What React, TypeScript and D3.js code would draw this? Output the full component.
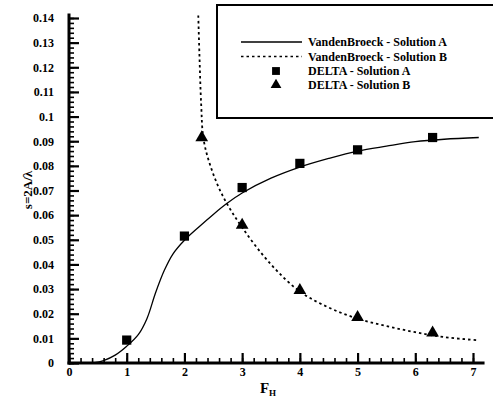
import React, { useEffect, useRef } from "react";
import * as d3 from "d3";

// VandenBroeck curves
const solA: [number, number][] = [
  [0.42, 0], [0.6, 0.001], [0.8, 0.0032], [1, 0.0068], [1.2, 0.0115], [1.35, 0.018],
  [1.5, 0.0285], [1.65, 0.0375], [1.8, 0.0442], [2, 0.0498], [2.25, 0.0552], [2.5, 0.0603],
  [2.75, 0.065], [3, 0.069], [3.5, 0.075], [4, 0.0795], [4.5, 0.083], [5, 0.086],
  [5.5, 0.088], [6, 0.0898], [6.5, 0.0908], [7.1, 0.0915],
];
const solB: [number, number][] = [
  [2.24, 0.141], [2.26, 0.125], [2.29, 0.105], [2.33, 0.091], [2.45, 0.08], [2.66, 0.068],
  [3, 0.055], [3.5, 0.04], [4, 0.029], [4.5, 0.0225], [5, 0.018], [5.5, 0.015],
  [6, 0.0125], [6.5, 0.0105], [7.1, 0.0092],
];
// DELTA results
const deltaAx = [1, 2, 3, 4, 5, 6.3];
const deltaAy = [0.0093, 0.0515, 0.0712, 0.081, 0.0865, 0.0915];
const deltaBx = [2.3, 3, 4, 5, 6.3];
const deltaBy = [0.0915, 0.056, 0.0295, 0.0185, 0.0122];

const xTicks = [0, 1, 2, 3, 4, 5, 6, 7];
const yTicks = [0, 0.01, 0.02, 0.03, 0.04, 0.05, 0.06, 0.07, 0.08, 0.09, 0.1, 0.11, 0.12, 0.13, 0.14];
const legendItems = ["VandenBroeck - Solution A", "VandenBroeck - Solution B", "DELTA - Solution A", "DELTA - Solution B"];

const W = 493, H = 405;
const font = "'Liberation Serif', 'Times New Roman', serif";
const tickColor = "#000";

const App = () => {
  const ref = useRef<SVGSVGElement>(null);
  useEffect(() => {
    const svg = d3.select(ref.current);
    svg.selectAll("*").remove();

    const x = d3.scaleLinear().domain([0, 7]).range([69, 473]);
    const y = d3.scaleLinear().domain([0, 0.14]).range([363, 18]);

    // axis lines
    svg.append("line").attr("x1", x(0) - 1.5).attr("x2", x(7.2)).attr("y1", y(0)).attr("y2", y(0))
      .attr("stroke", "#000").attr("stroke-width", 3);
    svg.append("line").attr("x1", x(0)).attr("x2", x(0)).attr("y1", y(0) + 1.5).attr("y2", y(0.1418))
      .attr("stroke", "#000").attr("stroke-width", 3);

    // minor ticks (no labels)
    const xMinor = d3.range(0, 36).map(i => i * 0.2);
    const yMinor = d3.range(0, 71).map(i => i * 0.002);
    svg.append("g").attr("transform", `translate(0,${y(0)})`)
      .call(d3.axisBottom(x).tickValues(xMinor).tickSizeInner(-5).tickSizeOuter(0).tickFormat(() => ""))
      .call(a => a.select(".domain").remove())
      .call(a => a.selectAll("line").attr("stroke", tickColor).attr("stroke-width", 1.6));
    svg.append("g").attr("transform", `translate(${x(0)},0)`)
      .call(d3.axisLeft(y).tickValues(yMinor).tickSizeInner(-5).tickSizeOuter(0).tickFormat(() => ""))
      .call(a => a.select(".domain").remove())
      .call(a => a.selectAll("line").attr("stroke", tickColor).attr("stroke-width", 1.6));

    // major ticks with labels
    svg.append("g").attr("transform", `translate(0,${y(0)})`)
      .call(d3.axisBottom(x).tickValues(xTicks).tickSizeInner(-10).tickSizeOuter(0).tickPadding(15).tickFormat(d3.format("d")))
      .call(a => a.select(".domain").remove())
      .call(a => a.selectAll("line").attr("stroke", tickColor).attr("stroke-width", 2.2))
      .call(a => a.selectAll("text").attr("font-family", font).attr("font-weight", "bold")
        .attr("font-size", 12).attr("fill", "#000").attr("dy", "-0.2em"));
    svg.append("g").attr("transform", `translate(${x(0)},0)`)
      .call(d3.axisLeft(y).tickValues(yTicks).tickSizeInner(-10).tickSizeOuter(0).tickPadding(15)
        .tickFormat(d => (d === 0 ? "0" : String(+(+d).toFixed(2)))))
      .call(a => a.select(".domain").remove())
      .call(a => a.selectAll("line").attr("stroke", tickColor).attr("stroke-width", 2.2))
      .call(a => a.selectAll("text").attr("font-family", font).attr("font-weight", "bold")
        .attr("font-size", 12).attr("fill", "#000"));

    // axis titles
    const xt = svg.append("text").attr("x", 268).attr("y", 393).attr("font-family", font)
      .attr("font-weight", "bold").attr("font-size", 15).attr("text-anchor", "middle");
    xt.append("tspan").text("F");
    xt.append("tspan").attr("font-size", 9).attr("dy", 3).text("H");
    svg.append("text").attr("transform", "translate(32,190) rotate(-90)")
      .attr("text-anchor", "middle").attr("font-family", font).attr("font-weight", "bold")
      .attr("font-size", 13).text("s=2A/λ");

    // curves
    const line = d3.line<[number, number]>().x(d => x(d[0])).y(d => y(d[1])).curve(d3.curveCatmullRom);
    svg.append("path").attr("d", line(solA)).attr("fill", "none").attr("stroke", "#000").attr("stroke-width", 1.3);
    svg.append("path").attr("d", line(solB)).attr("fill", "none").attr("stroke", "#000")
      .attr("stroke-width", 1.8).attr("stroke-dasharray", "2.5,3");

    // markers
    const sq = d3.symbol().type(d3.symbolSquare).size(85);
    const tri = d3.symbol().type(d3.symbolTriangle).size(70);
    svg.append("g").selectAll("path").data(deltaAx).enter().append("path")
      .attr("d", sq()).attr("transform", (d, i) => `translate(${x(d)},${y(deltaAy[i])})`).attr("fill", "#000");
    svg.append("g").selectAll("path").data(deltaBx).enter().append("path")
      .attr("d", tri()).attr("transform", (d, i) => `translate(${x(d)},${y(deltaBy[i])})`).attr("fill", "#000");

    // legend
    const lg = svg.append("g");
    lg.append("rect").attr("x", 217).attr("y", 5).attr("width", 290).attr("height", 113)
      .attr("fill", "#fff").attr("stroke", "#000").attr("stroke-width", 2);
    const rows = [42, 56.5, 71, 85];
    legendItems.forEach((t, i) => {
      lg.append("text").attr("x", 308).attr("y", rows[i]).attr("dy", "0.35em")
        .attr("font-family", font).attr("font-weight", "bold").attr("font-size", 12).text(t);
    });
    lg.append("line").attr("x1", 241).attr("x2", 302).attr("y1", rows[0]).attr("y2", rows[0])
      .attr("stroke", "#000").attr("stroke-width", 1.3);
    lg.append("line").attr("x1", 241).attr("x2", 302).attr("y1", rows[1]).attr("y2", rows[1])
      .attr("stroke", "#000").attr("stroke-width", 1.6).attr("stroke-dasharray", "2.5,3");
    lg.append("path").attr("d", sq()).attr("transform", `translate(276,${rows[2]}) scale(0.85)`).attr("fill", "#000");
    lg.append("path").attr("d", tri()).attr("transform", `translate(276,${rows[3]}) scale(0.85)`).attr("fill", "#000");
  }, []);

  return (
    <div style={{ position: "fixed", left: 0, top: 0 }}>
      <svg ref={ref} width={W} height={H} style={{ display: "block", background: "#fff" }} />
    </div>
  );
};

export default App;
